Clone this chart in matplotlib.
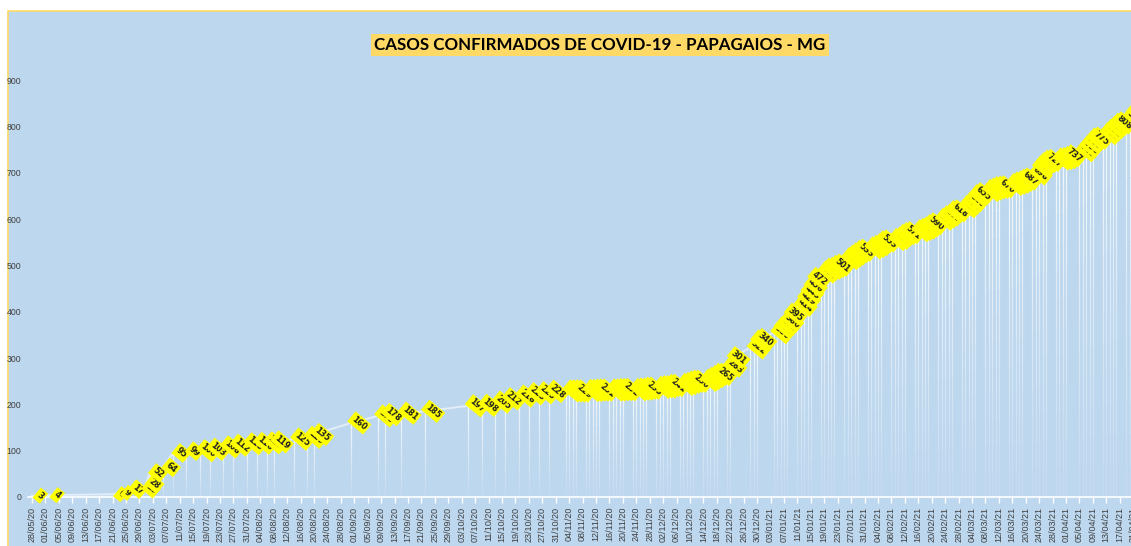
import matplotlib.pyplot as plt
import matplotlib.dates as mdates
from matplotlib.collections import LineCollection
from matplotlib.patches import Rectangle
import numpy as np
import pandas as pd

# casos confirmados acumulados - Papagaios MG
datas = [
    "28/05/20", "02/06/20", "21/06/20", "23/06/20", "26/06/20", "30/06/20", "01/07/20", "02/07/20",
    "06/07/20", "09/07/20", "13/07/20", "17/07/20", "20/07/20", "24/07/20", "27/07/20", "31/07/20",
    "03/08/20", "06/08/20", "08/08/20", "14/08/20", "18/08/20", "20/08/20", "31/08/20", "08/09/20",
    "10/09/20", "15/09/20", "22/09/20", "05/10/20", "09/10/20", "13/10/20", "16/10/20", "20/10/20",
    "23/10/20", "26/10/20", "29/10/20",
    "03/11/20", "04/11/20", "05/11/20", "06/11/20", "09/11/20", "10/11/20", "11/11/20", "12/11/20",
    "13/11/20", "16/11/20", "17/11/20", "18/11/20", "19/11/20", "20/11/20", "23/11/20", "24/11/20",
    "25/11/20", "26/11/20", "27/11/20", "30/11/20", "01/12/20", "02/12/20", "03/12/20", "04/12/20",
    "07/12/20", "08/12/20", "09/12/20", "10/12/20", "11/12/20", "14/12/20", "15/12/20", "16/12/20",
    "17/12/20", "18/12/20", "21/12/20", "22/12/20", "28/12/20", "29/12/20", "30/12/20",
    "04/01/21", "05/01/21", "06/01/21", "07/01/21", "08/01/21", "11/01/21", "12/01/21", "13/01/21",
    "14/01/21", "15/01/21", "18/01/21", "19/01/21", "20/01/21", "21/01/21", "22/01/21", "25/01/21",
    "26/01/21", "27/01/21", "28/01/21", "29/01/21", "01/02/21", "02/02/21", "03/02/21", "04/02/21",
    "05/02/21", "08/02/21", "09/02/21", "10/02/21", "11/02/21", "12/02/21", "15/02/21", "16/02/21",
    "17/02/21", "18/02/21", "19/02/21", "22/02/21", "23/02/21", "24/02/21", "25/02/21", "26/02/21",
    "01/03/21", "02/03/21", "03/03/21", "04/03/21", "05/03/21", "08/03/21", "09/03/21", "10/03/21",
    "11/03/21", "12/03/21", "15/03/21", "16/03/21", "17/03/21", "18/03/21", "19/03/21", "22/03/21",
    "23/03/21", "24/03/21", "25/03/21", "26/03/21", "29/03/21", "30/03/21", "31/03/21", "01/04/21",
    "05/04/21", "06/04/21", "07/04/21", "08/04/21", "09/04/21", "12/04/21", "13/04/21", "14/04/21",
    "15/04/21", "16/04/21", "19/04/21", "20/04/21",
]
casos = [
    3, 4, 6, 9, 17, 18, 28, 52,
    64, 95, 99, 100, 103, 108, 112, 115,
    116, 117, 119, 125, 129, 135, 160, 175,
    178, 181, 185, 197, 198, 205, 212, 218,
    223, 225, 228,
    229, 229, 229, 229, 230, 230, 231, 231,
    231, 231, 231, 232, 232, 232, 232, 233,
    233, 235, 235, 237, 238, 238, 241, 241,
    243, 245, 248, 250, 250, 252, 256, 260,
    265, 265, 283, 301, 322, 337, 340,
    355, 366, 372, 380, 395, 414, 429, 443,
    456, 472, 486, 492, 494, 498, 501, 515,
    520, 525, 530, 533, 538, 541, 545, 551,
    553, 556, 559, 565, 569, 571, 575, 578,
    581, 586, 590, 600, 605, 609, 616, 618,
    627, 634, 640, 651, 655, 662, 665, 668,
    669, 670, 675, 678, 680, 684, 687, 698,
    713, 720, 725, 727, 730, 731, 733, 737,
    748, 756, 765, 773, 775, 785, 792, 798,
    805, 808, 820, 830,
]

x = mdates.date2num(pd.to_datetime(datas, format="%d/%m/%y"))
y = np.array(casos)
inicio = mdates.date2num(pd.Timestamp("2020-05-28"))

W, H = 1131, 546
fig = plt.figure(figsize=(W / 100, H / 100), dpi=100)
fig.add_artist(Rectangle((8 / W, -0.01), 1.0, (H - 11) / H + 0.01, transform=fig.transFigure,
                         facecolor="#BDD7EE", edgecolor="#FFD966", lw=1.2, zorder=-1))

ax = fig.add_axes([28 / W, (H - 497) / H, (1160 - 28) / W, (497 - 34) / H])
ax.set_facecolor("none")
ax.set_xlim(inicio - 1.2, inicio + 331.2)
ax.set_ylim(0, 1000)

# linhas de queda (brancas, esmaecendo para baixo)
segs, cores = [], []
n = 12
for xi, yi in zip(x, y):
    for k in range(n):
        y0 = yi * k / n
        y1 = yi * (k + 1) / n
        segs.append([(xi, y0), (xi, y1)])
        cores.append((1, 1, 1, 0.05 + 0.75 * (k + 1) / n))
ax.add_collection(LineCollection(segs, colors=cores, linewidths=0.9, zorder=1))

ax.plot(x, y, color="#E3EEF8", lw=1.4, zorder=2)

for xi, yi in zip(x, y):
    ax.annotate(str(yi), (xi, yi), xytext=(6, 0), textcoords="offset points",
                rotation=-40, rotation_mode="anchor", ha="center", va="center",
                fontsize=5.8, fontweight="bold", color="#202020", zorder=3,
                bbox=dict(boxstyle="square,pad=0.25", fc="#FFFF00", ec="none"))

ticks = pd.date_range("2020-05-28", "2021-04-30", freq="4D")
ax.set_xticks(mdates.date2num(ticks))
ax.set_xticklabels([t.strftime("%d/%m/%y") for t in ticks], rotation=90,
                   fontsize=6.5, color="#404040", family="Liberation Sans")
ax.tick_params(axis="x", length=4, width=1, color="white", pad=3)
ax.set_yticks(range(0, 1000, 100))
ax.set_yticklabels([str(v) for v in range(0, 1000, 100)], fontsize=6.3,
                   color="#404040", family="Liberation Sans")
ax.tick_params(axis="y", length=0, pad=5)

for s in ["top", "right", "left"]:
    ax.spines[s].set_visible(False)
ax.spines["bottom"].set_color("white")
ax.spines["bottom"].set_linewidth(1.2)

fig.text(600 / W, 1 - 45 / H, "CASOS CONFIRMADOS DE COVID-19 - PAPAGAIOS - MG",
         ha="center", va="center", fontsize=12.2, fontweight="bold", family="Lato",
         color="black", bbox=dict(boxstyle="square,pad=0.2", fc="#FFD966", ec="none"))

fig.savefig("out.png", dpi=100)
